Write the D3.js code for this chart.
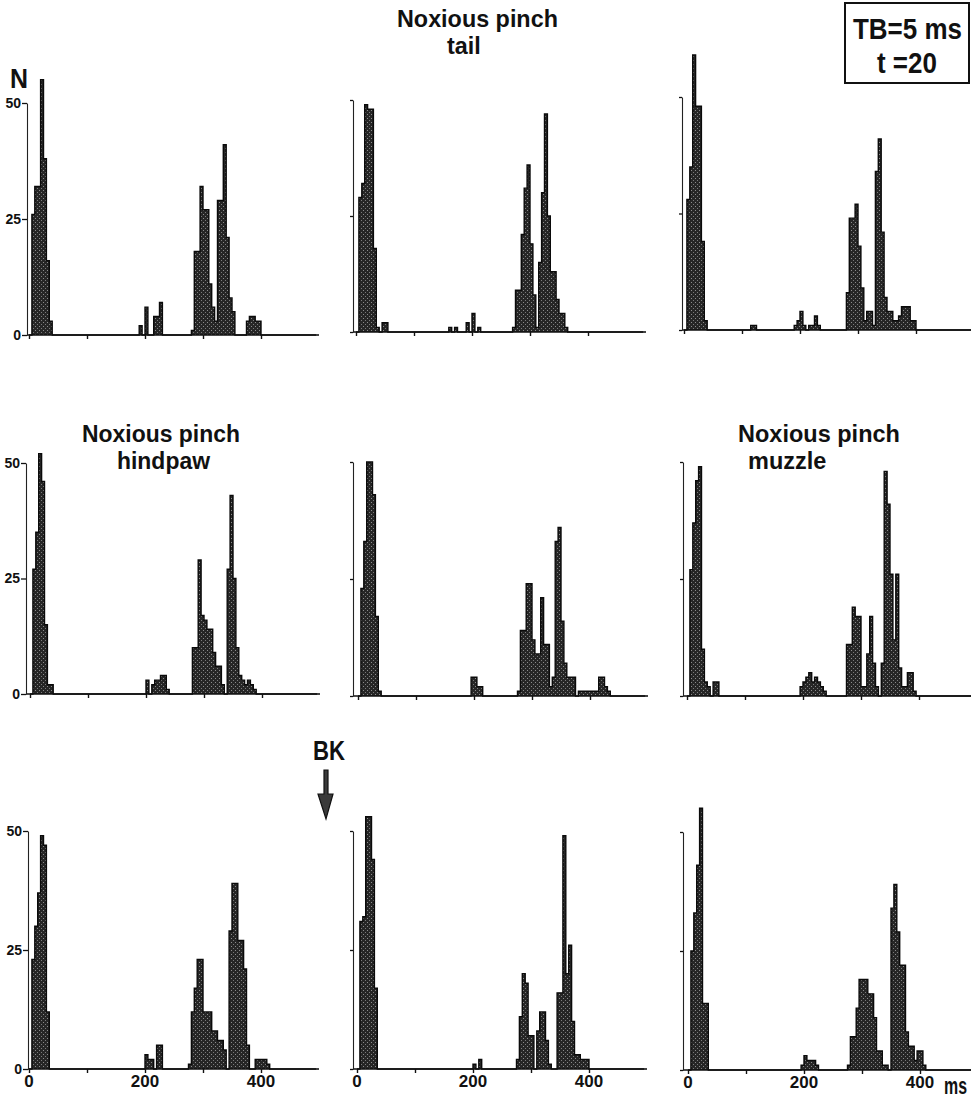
<!DOCTYPE html>
<html>
<head>
<meta charset="utf-8">
<script src="https://cdn.jsdelivr.net/npm/d3@7"></script>
<style>
    body { margin: 0; background: #fff; }
    svg text {
        font-family: "Liberation Sans", Arial, "DejaVu Sans", sans-serif;
        font-weight: bold;
        fill: #111;
    }
</style>
</head>
<body>
<svg id="chart" width="971" height="1103"></svg>
<script>
// Post-stimulus time histograms, TB = 5 ms bins, 20 trials
// each entry: [bin start (ms), count N]
const tail1 = [[5,26],[10,32],[15,32],[20,55],[25,38],[30,16],[35,3],
    [190,2],[200,6],[215,4],[220,4],[225,7],
    [280,1],[285,18],[290,18],[295,32],[300,27],[305,27],[310,11],[315,6],[320,3],
    [325,29],[330,29],[335,41],[340,21],[345,8],[350,5],
    [375,3],[380,4],[385,4],[390,3],[395,3]];
const tail2 = [[5,29],[10,32],[15,49],[20,48],[25,48],[30,18],[35,1],[45,2],[50,2],
    [160,1],[170,1],[190,2],[200,4],[210,1],
    [270,1],[275,9],[280,9],[285,21],[290,31],[295,36],[300,19],[305,8],[310,1],
    [315,15],[320,30],[325,47],[330,25],[335,13],[340,13],[345,7],[350,4],[355,4],[360,1]];
const tail3 = [[5,28],[10,35],[15,59],[20,48],[25,48],[30,19],[35,2],
    [115,1],[120,1],[190,1],[195,2],[200,4],[205,1],[215,1],[220,1],[225,3],[230,1],
    [280,8],[285,24],[290,24],[295,27],[300,18],[305,9],[310,2],[315,4],[320,4],[325,1],
    [330,34],[335,41],[340,21],[345,7],[350,4],[355,4],[360,2],[365,2],[370,3],
    [375,5],[380,5],[385,5],[390,2],[395,2]];
const hindpaw1 = [[5,27],[10,35],[15,52],[20,46],[25,15],[30,2],[35,2],
    [200,3],[210,2],[215,3],[220,3],[225,4],[230,4],[235,1],
    [280,10],[285,10],[290,29],[295,17],[300,16],[305,14],[310,14],[315,9],[320,6],[325,6],[330,2],
    [340,27],[345,43],[350,25],[355,10],[360,4],[365,3],[370,2],[375,3],[380,2],[385,1]];
const middle2 = [[5,23],[10,33],[15,50],[20,50],[25,43],[30,17],[35,1],
    [195,4],[200,4],[205,2],[210,2],
    [275,1],[280,14],[285,14],[290,24],[295,24],[300,12],[305,9],[310,9],[315,21],[320,11],[325,11],[330,2],
    [335,4],[340,33],[345,36],[350,16],[355,7],[360,4],[365,4],[370,4],
    [380,1],[385,1],[390,1],[395,1],[400,1],[405,1],[410,1],[415,4],[420,4],[425,2],[430,1]];
const muzzle3 = [[5,27],[10,37],[15,46],[20,49],[25,10],[30,3],[35,2],[45,3],[50,3],
    [195,2],[200,3],[205,4],[210,5],[215,3],[220,4],[225,3],[230,2],[235,1],
    [275,11],[280,11],[285,19],[290,17],[295,17],[300,2],[305,2],[310,9],[315,17],[320,7],[325,2],
    [335,7],[340,48],[345,41],[350,26],[355,12],[360,26],[365,6],[370,2],[375,2],[380,5],[385,5],[390,1]];
const bk1 = [[5,23],[10,30],[15,37],[20,49],[25,47],[30,12],
    [200,3],[205,2],[210,2],[220,5],[225,5],
    [275,1],[280,12],[285,17],[290,23],[295,23],[300,12],[305,12],[310,12],[315,8],[320,8],[325,6],[330,6],[335,4],
    [345,29],[350,39],[355,39],[360,27],[365,27],[370,21],[375,5],
    [390,2],[395,2],[400,2],[405,2],[410,1]];
const bk2 = [[5,31],[10,32],[15,53],[20,53],[25,44],[30,17],
    [200,1],[210,2],
    [275,2],[280,11],[285,20],[290,18],[295,7],[300,7],[310,8],[315,12],[320,12],[325,6],[330,1],
    [345,16],[350,16],[355,49],[360,20],[365,26],[370,10],[375,3],[380,3],[385,2],[390,2],[395,2]];
const bk3 = [[5,25],[10,33],[15,43],[20,55],[25,14],[30,14],
    [195,1],[200,3],[205,2],[210,2],[215,2],[220,1],
    [275,1],[280,7],[285,7],[290,13],[295,19],[300,19],[305,19],[310,16],[315,16],[320,11],[325,4],[330,4],[335,1],[340,1],
    [350,34],[355,39],[360,29],[365,22],[370,22],[375,8],[380,5],[385,5],[390,2],[395,4],[400,4],[405,1]];

const xTicks = [0, 100, 200, 300, 400];
const xTickLabels = [0, 200, 400];
const yTicks = [0, 25, 50];
const binWidth = 5;
const maxTime = 500;

const titleTail = ["Noxious pinch", "tail"];
const titleHindpaw = ["Noxious pinch", "hindpaw"];
const titleMuzzle = ["Noxious pinch", "muzzle"];
const boxLines = ["TB=5 ms", "t =20"];

// panel layout: y-axis x, pixel of 0 ms, baseline y, y of N=50
const panels = [
    { data: tail1,    row: 0, col: 0, axisX: 27,  zeroX: 29,  base: 335,  top: 103 },
    { data: tail2,    row: 0, col: 1, axisX: 353, zeroX: 356, base: 332,  top: 100 },
    { data: tail3,    row: 0, col: 2, axisX: 682, zeroX: 684, base: 330,  top: 97 },
    { data: hindpaw1, row: 1, col: 0, axisX: 26,  zeroX: 30,  base: 694,  top: 463 },
    { data: middle2,  row: 1, col: 1, axisX: 353, zeroX: 358, base: 696,  top: 462 },
    { data: muzzle3,  row: 1, col: 2, axisX: 683, zeroX: 687, base: 696,  top: 462 },
    { data: bk1,      row: 2, col: 0, axisX: 28,  zeroX: 29,  base: 1069, top: 831 },
    { data: bk2,      row: 2, col: 1, axisX: 353, zeroX: 357, base: 1069, top: 831 },
    { data: bk3,      row: 2, col: 2, axisX: 683, zeroX: 688, base: 1070, top: 832 }
];
const pxPerMs = 0.58;

const svg = d3.select("#chart");

// halftone-like fill for the bars
const defs = svg.append("defs");
const pat = defs.append("pattern")
    .attr("id", "grain")
    .attr("width", 4).attr("height", 4)
    .attr("patternUnits", "userSpaceOnUse");
pat.append("rect").attr("width", 4).attr("height", 4).attr("fill", "#262626");
pat.append("rect").attr("x", 1).attr("y", 0).attr("width", 1).attr("height", 1).attr("fill", "#7a7a7a");
pat.append("rect").attr("x", 3).attr("y", 2).attr("width", 1).attr("height", 1).attr("fill", "#8c8c8c");

panels.forEach(p => {
    const x = d3.scaleLinear().domain([0, maxTime]).range([p.zeroX, p.zeroX + maxTime * pxPerMs]);
    const y = d3.scaleLinear().domain([0, 50]).range([p.base, p.top]);

    const lookup = new Map(p.data);
    const series = d3.range(0, maxTime, binWidth).map(t => ({ t: t, n: lookup.get(t) || 0 }));
    series.push({ t: maxTime, n: 0 });

    const g = svg.append("g");

    // histogram
    g.append("path")
        .datum(series)
        .attr("fill", "url(#grain)")
        .attr("d", d3.area()
            .x(d => x(d.t))
            .y0(y(0))
            .y1(d => y(d.n))
            .curve(d3.curveStepAfter));

    g.append("path")
        .datum(series)
        .attr("fill", "none")
        .attr("stroke", "#0a0a0a")
        .attr("stroke-width", 1.4)
        .attr("d", d3.line()
            .x(d => x(d.t))
            .y(d => y(d.n))
            .curve(d3.curveStepAfter));

    // x axis
    g.append("line")
        .attr("x1", p.axisX).attr("x2", Math.min(x(maxTime - 5), 971))
        .attr("y1", p.base).attr("y2", p.base)
        .attr("stroke", "#111").attr("stroke-width", 1.6);

    const xAxis = g.append("g")
        .attr("transform", `translate(0,${p.base})`)
        .call(d3.axisBottom(x).tickValues(xTicks).tickSize(4).tickSizeOuter(0).tickFormat(""));
    xAxis.select(".domain").remove();
    xAxis.selectAll(".tick line").attr("stroke", "#111").attr("stroke-width", 1.4);

    if (p.row === 2) {
        g.selectAll(".xlab")
            .data(xTickLabels)
            .join("text")
            .attr("x", d => x(d))
            .attr("y", p.base + 18)
            .attr("text-anchor", "middle")
            .attr("font-size", 17)
            .text(d => d);
    }

    // y axis
    const yAxis = g.append("g")
        .attr("transform", `translate(${p.axisX},0)`)
        .call(d3.axisLeft(y).tickValues(yTicks).tickSize(p.col === 0 ? 5 : 3).tickSizeOuter(0)
            .tickFormat(p.col === 0 ? d3.format("d") : ""));
    yAxis.select(".domain").attr("stroke", "#222").attr("stroke-width", 1.1);
    yAxis.selectAll(".tick text")
        .attr("x", -6)
        .attr("font-size", 14)
        .attr("font-family", null);
    yAxis.selectAll(".tick line").attr("stroke", "#111").attr("stroke-width", 1.3);
});

// condensed bold labels: the first line is squeezed to the width it has in the figure
function label(lines, x, y, size, width, lineGap, offsets) {
    const t = svg.append("text")
        .attr("font-size", size)
        .attr("transform", `translate(${x},${y})`);
    lines.forEach((s, i) => {
        t.append("tspan").attr("x", 0).attr("y", i * (lineGap || 0)).text(s);
    });
    const w = t.select("tspan").node().getComputedTextLength();
    const sx = width / w;
    t.attr("transform", `translate(${x},${y}) scale(${sx},1)`);
    t.selectAll("tspan").attr("x", (d, i) => ((offsets || [])[i] || 0) / sx);
    return t;
}

label(titleTail, 397, 27, 24, 161, 27, [0, 50]);
label(titleHindpaw, 82, 442, 24, 158, 27, [0, 35]);
label(titleMuzzle, 738, 442, 24, 162, 27, [0, 10]);

label(["N"], 10, 88, 28, 18);

// TB box
svg.append("rect")
    .attr("x", 845).attr("y", 3)
    .attr("width", 124).attr("height", 80)
    .attr("fill", "none").attr("stroke", "#111").attr("stroke-width", 2);
label(boxLines, 853, 39, 30, 109, 34, [0, 24]);

// BK marker
label(["BK"], 313, 760, 27, 32);
svg.append("path")
    .attr("d", "M324,770 L328,770 L328,794 L333,794 L326,819 L318,794 L324,794 Z")
    .attr("fill", "#3a3a3a").attr("stroke", "#111").attr("stroke-width", 1.2);

label(["ms"], 944, 1094, 23, 23);
</script>
</body>
</html>
